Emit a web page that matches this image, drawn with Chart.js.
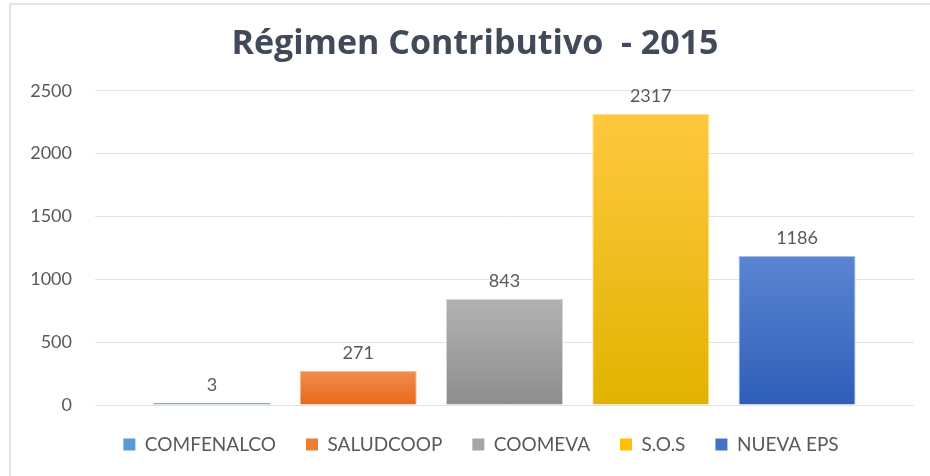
<!DOCTYPE html>
<html>
<head>
<meta charset="utf-8">
<script src="https://cdn.jsdelivr.net/npm/chart.js@4"></script>
<style>
  html, body { margin: 0; padding: 0; background: #fff; }
  #wrap { position: relative; width: 930px; height: 476px; }
</style>
</head>
<body>
<div id="wrap"><canvas id="chart" width="930" height="476"></canvas></div>
<script>
// ── Data ──────────────────────────────────────────────────────
const TITLE = 'Régimen Contributivo  - 2015';
const CATEGORIES = ['2015'];
const SERIES_NAMES = ['COMFENALCO', 'SALUDCOOP', 'COOMEVA', 'S.O.S', 'NUEVA EPS'];
const SERIES_VALUES = [3, 271, 843, 2317, 1186];
const Y_TICKS = [0, 500, 1000, 1500, 2000, 2500];

// ── Colours (gradient top / bottom, legend, border) ──────────
const TOP_COLORS    = ['#6aa6dc', '#f28c4e', '#b2b2b2', '#ffc83f', '#5b85d2'];
const BOTTOM_COLORS = ['#4f8fcf', '#e6681b', '#8d8d8d', '#e1b300', '#2e5eb8'];
const LEGEND_COLORS = ['#5b9bd5', '#ed7d31', '#a5a5a5', '#ffc000', '#4472c4'];
const BORDER_COLORS = ['#5b9bd5', '#f7b894', '#d6d6d6', '#ffe08a', '#a9bfe8'];

const FONT = 'Lato, "Open Sans", sans-serif';
const TITLE_FONT = '"Open Sans", Lato, sans-serif';
const TEXT_GREY = '#595959';

// ── Helpers ───────────────────────────────────────────────────
function barGradient(ctx, i) {
  const chart = ctx.chart;
  const y = chart.scales && chart.scales.y;
  if (!chart.chartArea || !y) return LEGEND_COLORS[i];
  const top = y.getPixelForValue(SERIES_VALUES[i]);
  const bottom = y.getPixelForValue(0);
  if (!isFinite(top) || !isFinite(bottom) || bottom - top < 1) return LEGEND_COLORS[i];
  const g = chart.ctx.createLinearGradient(0, top, 0, bottom);
  g.addColorStop(0, TOP_COLORS[i]);
  g.addColorStop(1, BOTTOM_COLORS[i]);
  return g;
}

// ── Plugins ───────────────────────────────────────────────────
const frame = {
  id: 'frame',
  beforeDraw(chart) {
    const c = chart.ctx;
    c.save();
    c.strokeStyle = '#e2e6eb';
    c.lineWidth = 2;
    c.beginPath();
    c.moveTo(10, 476);
    c.lineTo(10, 4);
    c.lineTo(930, 4);
    c.stroke();
    c.restore();
  }
};

// legend: fixed block height; legend row and title nudged right a little
const layoutTweak = {
  id: 'layoutTweak',
  afterInit(chart) {
    const lg = chart.legend;
    if (!lg) return;
    const origFit = lg.fit;
    lg.fit = function () {
      origFit.call(this);
      this.height = 71;
    };
  },
  afterLayout(chart) {
    const lg = chart.legend;
    if (lg) { lg.left += 14; lg.right += 14; }
    const t = chart.titleBlock;
    if (t) { t.left += 8; t.right += 8; }
  }
};

const valueLabels = {
  id: 'valueLabels',
  afterDatasetsDraw(chart) {
    const c = chart.ctx;
    c.save();
    c.font = '18px ' + FONT;
    c.fillStyle = TEXT_GREY;
    c.textAlign = 'center';
    c.textBaseline = 'bottom';
    chart.data.datasets.forEach((ds, i) => {
      const meta = chart.getDatasetMeta(i);
      meta.data.forEach((bar, j) => {
        c.fillText(String(ds.data[j]), bar.x, bar.y - 9);
      });
    });
    c.restore();
  }
};

// ── Chart ─────────────────────────────────────────────────────
const datasets = SERIES_NAMES.map((name, i) => ({
  label: name,
  data: [SERIES_VALUES[i]],
  backgroundColor: ctx => barGradient(ctx, i),
  borderColor: BORDER_COLORS[i],
  borderWidth: 1,
  minBarLength: 2,
  categoryPercentage: 0.893,
  barPercentage: 0.8
}));

new Chart(document.getElementById('chart'), {
  type: 'bar',
  data: { labels: CATEGORIES, datasets },
  plugins: [frame, layoutTweak, valueLabels],
  options: {
    responsive: false,
    animation: false,
    layout: { padding: { left: 20, right: 16, top: 0, bottom: 0 } },
    plugins: {
      title: {
        display: true,
        text: TITLE,
        color: '#404a58',
        font: { family: TITLE_FONT, size: 34, weight: 'bold' },
        padding: { top: 24, bottom: 26 }
      },
      legend: {
        position: 'bottom',
        labels: {
          boxWidth: 12,
          boxHeight: 12,
          padding: 30,
          color: TEXT_GREY,
          font: { family: FONT, size: 19 },
          generateLabels(chart) {
            return chart.data.datasets.map((ds, i) => ({
              text: ds.label,
              fillStyle: LEGEND_COLORS[i],
              strokeStyle: LEGEND_COLORS[i],
              lineWidth: 0,
              fontColor: TEXT_GREY,
              hidden: !chart.isDatasetVisible(i),
              datasetIndex: i
            }));
          }
        }
      },
      tooltip: { enabled: false }
    },
    scales: {
      x: { display: false },
      y: {
        min: 0,
        max: 2500,
        afterBuildTicks(scale) { scale.ticks = Y_TICKS.map(v => ({ value: v })); },
        afterFit(scale) { scale.width = 75; },
        border: { display: false },
        grid: { color: '#e0e4ea', lineWidth: 1, drawTicks: false },
        ticks: {
          padding: 23,
          color: TEXT_GREY,
          font: { family: FONT, size: 18 },
          callback: v => String(v)
        }
      }
    }
  }
});
</script>
</body>
</html>
